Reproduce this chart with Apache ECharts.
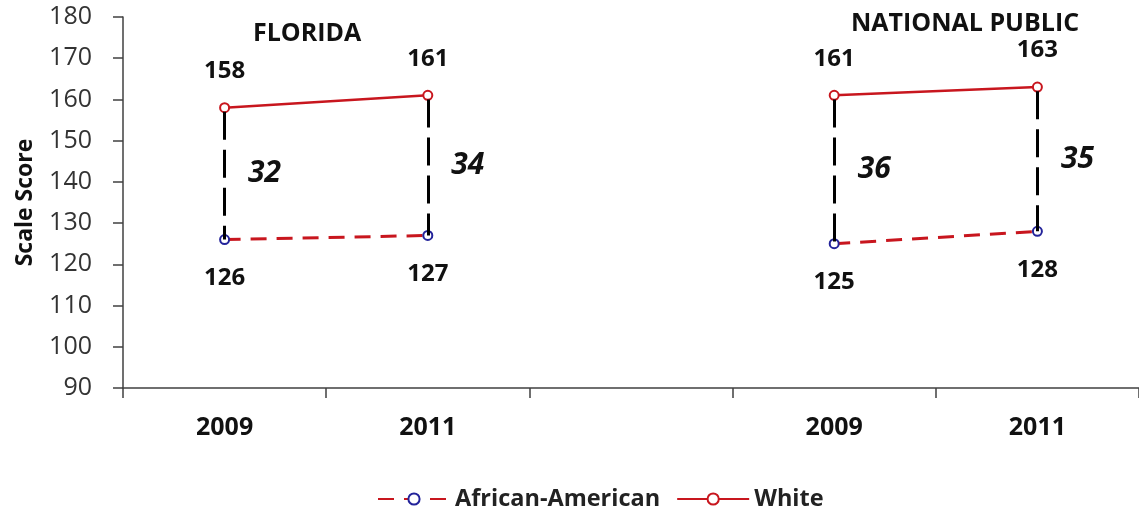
<!DOCTYPE html>
<html>
<head>
<meta charset="utf-8">
<script src="https://cdn.jsdelivr.net/npm/echarts@6/dist/echarts.min.js"></script>
<style>
  html, body { margin: 0; padding: 0; background: #fff; }
  #chart { width: 1139px; height: 510px; }
</style>
</head>
<body>
<div id="chart"></div>
<script>
// categories: two groups (Florida, National Public), separated by an empty slot
const years = ['2009', '2011', '', '2009', '2011'];
const white = [158, 161, null, 161, 163];
const africanAmerican = [126, 127, null, 125, 128];
const gaps = [32, 34, null, 36, 35];
const groupTitles = ['FLORIDA', 'NATIONAL PUBLIC'];

const red = '#c8161e';
const blue = '#23239a';
const font = '"Open Sans", "Liberation Sans", sans-serif';

const myChart = echarts.init(document.getElementById('chart'));

// black dashed connector between the two points of each year
const gapLines = [];
const gapPoints = [];
for (let i = 0; i < years.length; i++) {
  if (white[i] == null) continue;
  gapLines.push([{ coord: [i, white[i] - 1] }, { coord: [i, africanAmerican[i]] }]);
  gapPoints.push({ value: [i, (white[i] + africanAmerican[i]) / 2], gap: gaps[i] });
}

myChart.setOption({
  animation: false,
  textStyle: { fontFamily: font },
  title: [
    {
      text: groupTitles[0], left: 248, top: 16,
      textStyle: { fontSize: 25, fontWeight: 'bold', color: '#111', fontFamily: font }
    },
    {
      text: groupTitles[1], left: 846, top: 6,
      textStyle: { fontSize: 25, fontWeight: 'bold', color: '#111', fontFamily: font }
    }
  ],
  grid: { left: 123, width: 1021, top: 17, bottom: 122 },
  legend: {
    top: 482,
    left: 372,
    itemWidth: 72,
    itemHeight: 14,
    itemGap: 16,
    textStyle: { fontSize: 23.5, fontWeight: 'bold', color: '#222', fontFamily: font },
    data: ['African-American', 'White']
  },
  xAxis: {
    type: 'category',
    data: years,
    boundaryGap: true,
    axisLine: { lineStyle: { color: '#404040', width: 1.5 } },
    axisTick: { show: true, length: 10, lineStyle: { color: '#404040', width: 1.5 } },
    axisLabel: { fontSize: 25, fontWeight: 'bold', color: '#111', margin: 27, fontFamily: font },
    splitLine: { show: false }
  },
  yAxis: {
    type: 'value',
    min: 90,
    max: 180,
    interval: 10,
    name: 'Scale Score',
    nameLocation: 'middle',
    nameRotate: 90,
    nameGap: 86,
    nameTextStyle: { fontSize: 23, fontWeight: 'bold', color: '#111', fontFamily: font },
    axisLine: { show: true, lineStyle: { color: '#404040', width: 1.5 } },
    axisTick: { show: true, length: 10, lineStyle: { color: '#404040', width: 1.5 } },
    axisLabel: { fontSize: 25, color: '#333', margin: 31, fontFamily: font },
    splitLine: { show: false }
  },
  series: [
    {
      name: 'African-American',
      type: 'line',
      data: africanAmerican,
      connectNulls: false,
      symbol: 'emptyCircle',
      symbolSize: 9,
      itemStyle: { color: blue, borderColor: blue, borderWidth: 1.5 },
      lineStyle: { color: red, width: 3, type: [16, 10] },
      label: {
        show: true,
        position: 'bottom',
        distance: 21,
        fontSize: 24,
        fontWeight: 'bold',
        color: '#111',
        fontFamily: font
      },
      z: 3
    },
    {
      name: 'White',
      type: 'line',
      data: white,
      connectNulls: false,
      symbol: 'emptyCircle',
      symbolSize: 9,
      itemStyle: { color: red, borderColor: red, borderWidth: 1.5 },
      lineStyle: { color: red, width: 2.5 },
      label: {
        show: true,
        position: 'top',
        distance: 19,
        fontSize: 24,
        fontWeight: 'bold',
        color: '#111',
        fontFamily: font
      },
      markLine: {
        silent: true,
        symbol: ['none', 'none'],
        label: { show: false },
        lineStyle: { color: '#000', width: 3, type: [28, 10] },
        data: gapLines
      },
      z: 4
    },
    {
      name: 'gap',
      type: 'scatter',
      data: gapPoints,
      symbolSize: 0,
      silent: true,
      itemStyle: { opacity: 1 },
      label: {
        show: true,
        position: 'inside',
        offset: [40, 0],
        formatter: (p) => String(p.data.gap),
        fontSize: 30,
        fontWeight: 'bold',
        fontStyle: 'italic',
        color: '#111',
        fontFamily: font
      }
    }
  ]
});
</script>
</body>
</html>
